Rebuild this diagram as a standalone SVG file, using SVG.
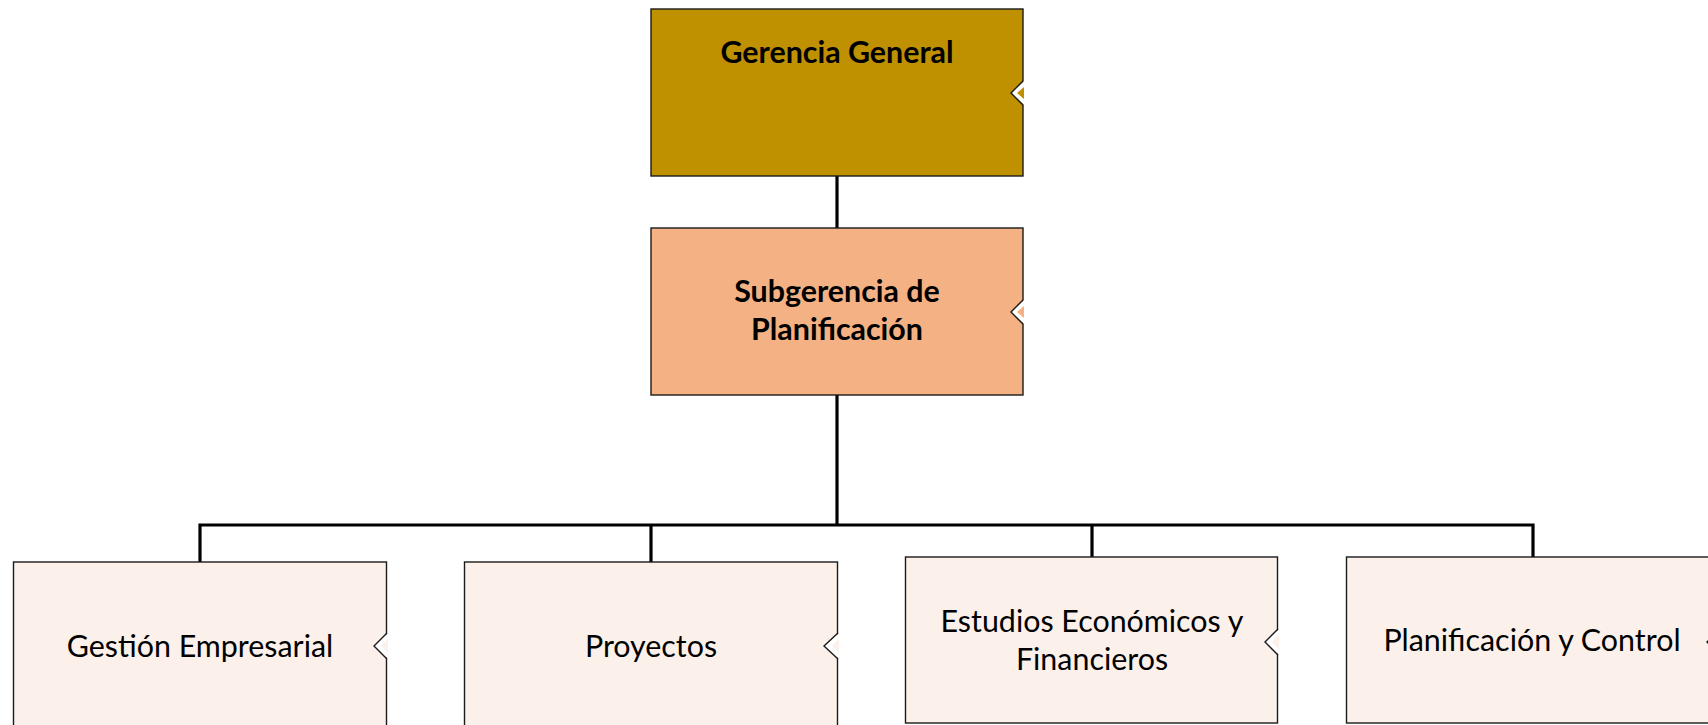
<svg xmlns="http://www.w3.org/2000/svg" width="1708" height="725" viewBox="0 0 1708 725">
<style>
.box{stroke:#1a1a1a;stroke-width:1.4}
.g{fill:#BF9000}
.o{fill:#F4B183}
.p{fill:#FBF0EA}
.notch{fill:#ffffff;stroke:none}
.nline{fill:none;stroke:#1a1a1a;stroke-width:1.4}
.tb{font-family:Lato,"Liberation Sans",sans-serif;font-weight:bold;font-size:30.4px;fill:#000;text-anchor:middle}
.tn{font-family:Lato,"Liberation Sans",sans-serif;font-size:30.4px;fill:#000;text-anchor:middle}
.conn{stroke:#000;stroke-width:3.2;fill:none}
</style>
<rect width="1708" height="725" fill="#ffffff"/>
<g id="connectors">
<line class="conn" x1="837" y1="176" x2="837" y2="228"/>
<line class="conn" x1="837" y1="395" x2="837" y2="525"/>
<polyline class="conn" points="200,562 200,525 1533,525 1533,557"/>
<line class="conn" x1="651" y1="525" x2="651" y2="562"/>
<line class="conn" x1="1092" y1="525" x2="1092" y2="557"/>
</g>
<g id="gerencia-general">
<rect class="box g" x="651" y="9" width="372" height="167"/>
<polygon class="notch" points="1024,81 1011,93 1024,105"/>
<polygon class="g" points="1024,87 1017,93 1024,99"/>
<polyline class="nline" points="1023,81 1011,93 1023,105"/>
<text class="tb" x="837" y="63">Gerencia General</text>
</g>
<g id="subgerencia">
<rect class="box o" x="651" y="228" width="372" height="167"/>
<polygon class="notch" points="1024,300 1011,312 1024,324"/>
<polygon class="o" points="1024,306 1017,312 1024,318"/>
<polyline class="nline" points="1023,300 1011,312 1023,324"/>
<text class="tb" x="837" y="302">Subgerencia de</text>
<text class="tb" x="837" y="340">Planificación</text>
</g>
<g id="gestion-empresarial">
<rect class="box p" x="13.5" y="562" width="373" height="180"/>
<polygon class="notch" points="388,633 374,646 388,659"/>
<polygon class="p" points="388,639 381,646 388,653"/>
<polyline class="nline" points="387,633 374,646 387,659"/>
<text class="tn" x="200" y="657">Gestión Empresarial</text>
</g>
<g id="proyectos">
<rect class="box p" x="464.5" y="562" width="373" height="180"/>
<polygon class="notch" points="839,633 824,646 839,659"/>
<polygon class="p" points="839,639 832,646 839,653"/>
<polyline class="nline" points="838,633 824,646 838,659"/>
<text class="tn" x="651" y="657">Proyectos</text>
</g>
<g id="estudios">
<rect class="box p" x="905.5" y="557" width="372" height="166"/>
<polygon class="notch" points="1279,629 1265,642 1279,655"/>
<polygon class="p" points="1279,635 1272,642 1279,649"/>
<polyline class="nline" points="1278,629 1265,642 1278,655"/>
<text class="tn" x="1092" y="632">Estudios Económicos y</text>
<text class="tn" x="1092" y="670">Financieros</text>
</g>
<g id="planificacion-control">
<rect class="box p" x="1346.5" y="557" width="373" height="166"/>
<polygon class="notch" points="1721,629 1707,642 1721,655"/>
<polyline class="nline" points="1720,629 1707,642 1720,655"/>
<text class="tn" x="1532" y="651">Planificación y Control</text>
</g>
</svg>
